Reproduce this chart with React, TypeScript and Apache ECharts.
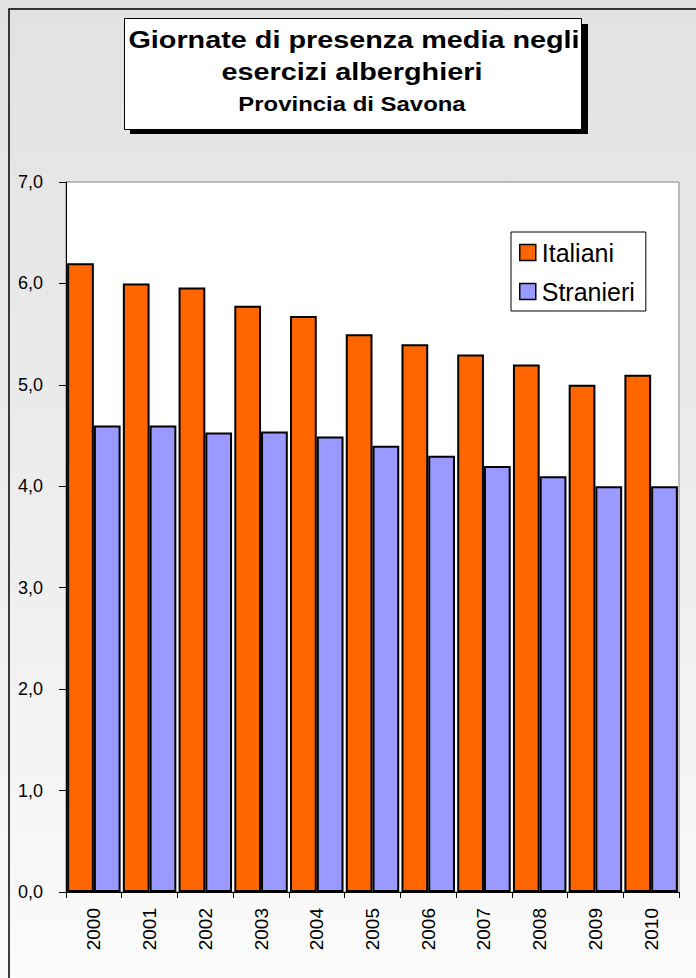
import React, { useEffect, useRef } from "react";
import * as echarts from "echarts";

const years = ["2000", "2001", "2002", "2003", "2004", "2005", "2006", "2007", "2008", "2009", "2010"];
const italiani = [6.2, 6.0, 5.96, 5.78, 5.68, 5.5, 5.4, 5.3, 5.2, 5.0, 5.1];
const stranieri = [4.6, 4.6, 4.53, 4.54, 4.49, 4.4, 4.3, 4.2, 4.1, 4.0, 4.0];
const titleLines = ["Giornate di presenza media negli", "esercizi alberghieri"];
const subtitle = "Provincia di Savona";

const FONT = "Liberation Sans, Arial, sans-serif";

export default function App() {
  const ref = useRef<HTMLDivElement>(null);
  useEffect(() => {
    document.body.style.margin = "0";
    const chart = echarts.init(ref.current!, null, { renderer: "svg" });
    chart.setOption({
      animation: false,
      textStyle: { fontFamily: FONT },
      graphic: [
        {
          type: "rect",
          shape: { x: 9, y: 9, width: 720, height: 1000 },
          style: { fill: "none", stroke: "#000", lineWidth: 1.5 },
          silent: true,
        },
        {
          type: "rect",
          shape: { x: 130, y: 24, width: 458, height: 110 },
          style: { fill: "#000" },
          silent: true,
        },
        {
          type: "rect",
          shape: { x: 124.5, y: 18.5, width: 457, height: 111 },
          style: { fill: "#fff", stroke: "#000", lineWidth: 1 },
          silent: true,
        },
        {
          type: "text",
          x: 354,
          y: 40,
          scaleX: 1.2,
          style: {
            text: titleLines[0],
            align: "center",
            verticalAlign: "middle",
            fontSize: 24,
            fontWeight: "bold",
            fontFamily: FONT,
            fill: "#000",
          },
        },
        {
          type: "text",
          x: 352,
          y: 71.6,
          scaleX: 1.2,
          style: {
            text: titleLines[1],
            align: "center",
            verticalAlign: "middle",
            fontSize: 24,
            fontWeight: "bold",
            fontFamily: FONT,
            fill: "#000",
          },
        },
        {
          type: "text",
          x: 352,
          y: 104.3,
          scaleX: 1.14,
          style: {
            text: subtitle,
            align: "center",
            verticalAlign: "middle",
            fontSize: 21,
            fontWeight: "bold",
            fontFamily: FONT,
            fill: "#000",
          },
        },
      ],
      legend: {
        orient: "vertical",
        left: 511,
        top: 232,
        padding: [8, 11, 7, 8],
        itemWidth: 16,
        itemHeight: 16,
        itemGap: 14,
        icon: "rect",
        backgroundColor: "#fff",
        borderColor: "#000",
        borderWidth: 1,
        itemStyle: { borderColor: "#000", borderWidth: 1.5 },
        textStyle: { fontSize: 25, lineHeight: 24, color: "#000", fontFamily: FONT, padding: [0, 0, 0, 1] },
        data: ["Italiani", "Stranieri"],
      },
      grid: {
        left: 66,
        top: 182,
        right: 17,
        bottom: 86,
        show: true,
        backgroundColor: "#fff",
        borderColor: "#808080",
        borderWidth: 1,
      },
      xAxis: {
        type: "category",
        data: years,
        axisLine: { show: true, lineStyle: { color: "#000", width: 1 } },
        axisTick: { show: true, length: 6, lineStyle: { color: "#000" } },
        axisLabel: { rotate: 90, margin: 16, fontSize: 19, color: "#000", fontFamily: FONT },
      },
      yAxis: {
        type: "value",
        min: 0,
        max: 7,
        interval: 1,
        axisLine: { show: true, lineStyle: { color: "#000", width: 1 } },
        axisTick: { show: true, length: 7, lineStyle: { color: "#000" } },
        splitLine: { show: false },
        axisLabel: {
          margin: 23,
          fontSize: 18,
          color: "#000",
          fontFamily: FONT,
          formatter: (v: number) => v.toFixed(1).replace(".", ","),
        },
      },
      series: [
        {
          name: "Italiani",
          type: "bar",
          data: italiani,
          barGap: "0%",
          barCategoryGap: "4%",
          itemStyle: { color: "#ff6600", borderColor: "#000", borderWidth: 2 },
        },
        {
          name: "Stranieri",
          type: "bar",
          data: stranieri,
          barGap: "0%",
          barCategoryGap: "4%",
          itemStyle: { color: "#9999ff", borderColor: "#000", borderWidth: 2 },
        },
      ],
    });
    return () => chart.dispose();
  }, []);
  return (
    <div
      ref={ref}
      style={{
        position: "absolute",
        left: 0,
        top: 0,
        width: 696,
        height: 978,
        background: "linear-gradient(180deg, #e2e2e2 0%, #ececec 50%, #fbfbfb 100%)",
      }}
    />
  );
}
